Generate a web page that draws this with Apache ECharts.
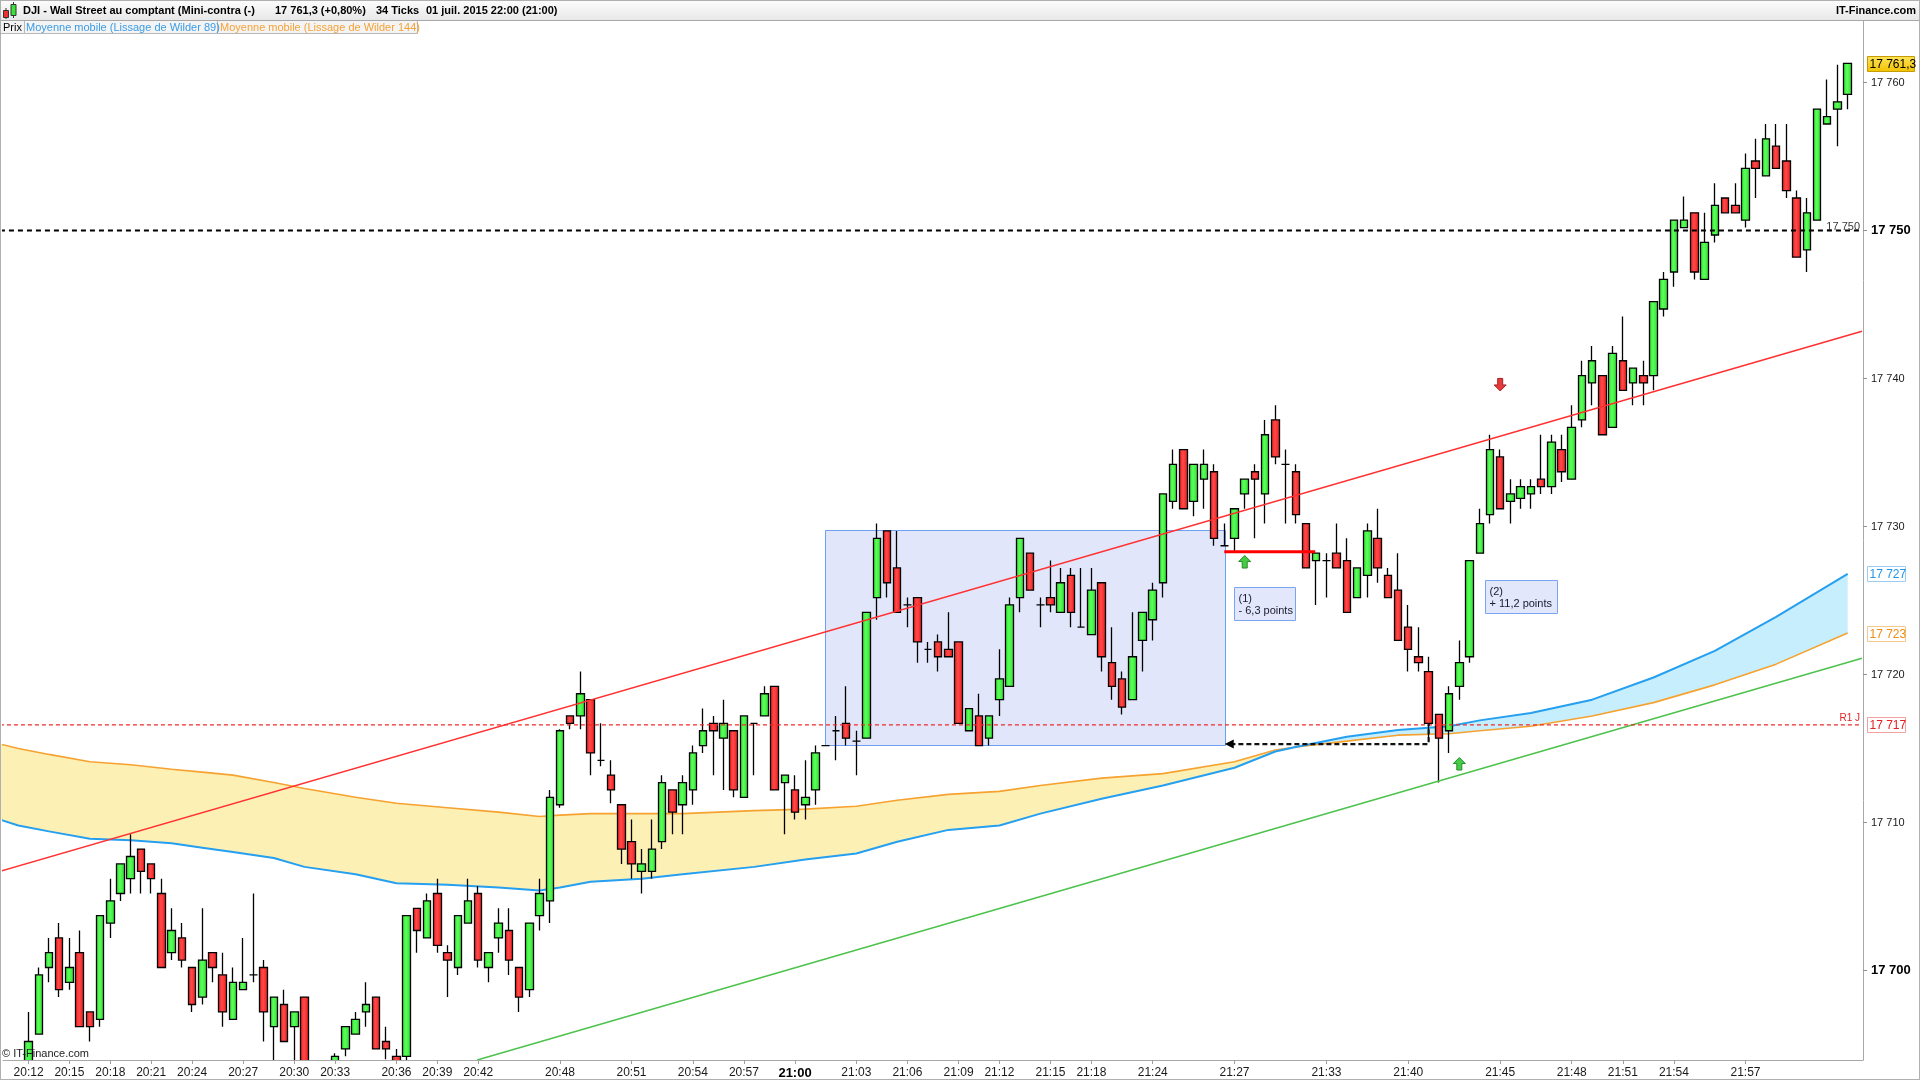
<!DOCTYPE html>
<html><head><meta charset="utf-8">
<script src="https://cdn.jsdelivr.net/npm/echarts@6/dist/echarts.min.js"></script>
<style>html,body{margin:0;padding:0;background:#fff;overflow:hidden}#c{width:1920px;height:1080px}</style>
</head><body><div id="c"></div>
<script>
// ---- candle data (34-tick candles) ----
const candleOpen = [17692.5,17695.7,17700.2,17702.2,17699.2,17701.2,17697.2,17696.7,17703.2,17705.2,
17706.2,17708.2,17707.2,17705.2,17701.2,17702.2,17700.2,17698.2,17701.2,17699.7,
17696.7,17698.7,17699.7,17700.2,17696.2,17697.7,17696.2,17698.2,17692.5,17691.5,
17692.8,17694.7,17695.7,17697.2,17698.2,17695.2,17694.2,17694.2,17704.2,17702.2,
17705.2,17701.2,17700.2,17703.2,17705.2,17700.2,17702.2,17702.7,17700.2,17698.7,
17703.7,17704.7,17711.2,17717.2,17717.2,17718.3,17714.2,17713.2,17711.2,17708.7,
17706.7,17706.7,17708.7,17712.2,17711.2,17712.2,17715.2,17716.7,17715.7,17716.2,
17711.7,17716.7,17717.2,17719.2,17712.7,17712.2,17711.2,17712.2,17715.2,17716.2,
17716.7,17715.5,17715.7,17725.2,17729.7,17727.2,17724.7,17725.2,17721.7,17722.2,
17721.7,17722.2,17716.2,17717.2,17715.7,17718.3,17719.2,17725.2,17728.2,17724.7,
17725.2,17724.2,17726.7,17723.2,17722.7,17726.2,17720.8,17719.7,17718.3,17722.3,
17723.7,17726.2,17731.7,17735.2,17731.7,17733.2,17733.7,17728.7,17729.2,17732.2,
17733.7,17732.2,17737.2,17734.2,17733.7,17730.2,17727.7,17727.7,17728.2,17727.7,
17725.2,17726.7,17729.2,17726.7,17725.7,17723.2,17721.2,17720.2,17717.3,17716.2,
17719.2,17721.2,17728.2,17730.8,17734.7,17731.7,17731.9,17732.2,17733.2,17732.7,
17735.2,17733.2,17737.2,17739.7,17740.2,17736.7,17741.2,17739.7,17740.2,17740.2,
17744.7,17747.2,17750.2,17751.2,17746.7,17749.7,17752.2,17751.7,17750.7,17754.7,
17753.7,17755.7,17754.7,17752.2,17748.7,17750.7,17757.2,17758.2,17759.2];
const candleHigh = [17697.2,17700.2,17702.2,17703.2,17702.2,17702.7,17697.2,17703.7,17706.2,17707.2,
17709.2,17708.2,17707.2,17706.2,17704.2,17703.2,17700.2,17704.2,17701.2,17701.2,
17700.2,17702.2,17705.2,17700.7,17698.2,17698.7,17697.2,17698.2,17693.5,17693.6,
17694.4,17696.2,17697.2,17699.2,17698.2,17696.2,17694.7,17703.7,17704.2,17705.2,
17706.2,17701.7,17703.7,17706.2,17705.7,17701.2,17704.2,17704.2,17700.2,17703.2,
17706.2,17712.2,17716.3,17717.2,17720.2,17718.3,17716.7,17714.2,17711.2,17710.2,
17708.2,17710.2,17713.2,17712.2,17713.2,17715.2,17717.7,17717.2,17718.3,17716.2,
17717.2,17716.7,17719.2,17719.2,17713.2,17713.2,17714.2,17715.2,17715.2,17717.2,
17719.2,17716.2,17724.2,17730.2,17729.7,17729.7,17725.2,17725.2,17722.2,17722.7,
17724.2,17722.2,17717.7,17718.7,17717.2,17721.7,17725.2,17729.2,17728.2,17725.2,
17727.7,17727.2,17727.2,17727.2,17727.2,17726.2,17723.2,17720.2,17724.2,17724.2,
17726.2,17732.2,17735.2,17735.2,17734.2,17735.2,17734.2,17730.2,17731.2,17733.2,
17734.2,17737.2,17738.2,17735.2,17734.2,17730.2,17728.2,17728.2,17730.2,17729.2,
17727.2,17730.2,17731.2,17727.2,17728.2,17724.7,17723.2,17721.2,17717.3,17719.2,
17722.3,17727.7,17731.2,17736.2,17735.2,17733.2,17733.2,17733.2,17736.2,17736.2,
17736.2,17738.2,17741.2,17742.2,17740.2,17742.2,17744.2,17740.7,17741.2,17745.2,
17747.2,17750.7,17752.3,17751.2,17751.2,17753.2,17752.2,17753.2,17755.2,17756.2,
17757.2,17757.2,17757.2,17752.7,17752.2,17758.2,17760.2,17761.2,17761.3];
const candleLow = [17692.0,17695.7,17699.2,17698.2,17698.7,17696.2,17695.2,17696.2,17702.2,17704.7,
17705.2,17705.2,17705.2,17700.2,17700.7,17700.2,17697.2,17697.7,17699.2,17696.2,
17696.7,17698.7,17699.2,17695.2,17693.5,17695.2,17693.5,17691.5,17690.5,17691.0,
17692.5,17694.2,17695.7,17696.2,17694.7,17694.0,17693.0,17693.8,17701.2,17702.2,
17701.2,17698.2,17699.7,17703.2,17700.2,17699.2,17701.2,17699.7,17697.2,17698.2,
17702.7,17703.2,17711.0,17716.3,17716.3,17713.2,17713.8,17711.3,17707.2,17706.2,
17705.2,17706.2,17708.2,17709.2,17709.2,17711.2,17714.7,17713.2,17712.2,17711.7,
17711.7,17713.2,17717.2,17712.2,17709.2,17710.2,17710.2,17711.2,17715.2,17714.2,
17715.2,17713.2,17715.7,17723.7,17725.2,17724.2,17723.2,17720.8,17720.8,17720.2,
17721.2,17716.7,17716.2,17715.2,17715.2,17717.2,17719.2,17724.2,17725.7,17723.2,
17724.2,17724.2,17723.2,17723.2,17722.7,17720.2,17718.3,17717.3,17718.3,17720.2,
17722.3,17725.2,17731.2,17731.2,17730.7,17731.2,17728.7,17728.7,17728.3,17731.2,
17729.2,17730.2,17734.2,17730.2,17730.2,17727.2,17724.7,17725.2,17727.2,17724.2,
17725.2,17725.2,17726.2,17725.2,17722.3,17720.2,17720.2,17715.7,17712.7,17714.7,
17718.3,17720.8,17728.2,17730.2,17731.2,17730.2,17731.2,17731.2,17732.2,17732.2,
17733.0,17733.2,17736.7,17738.2,17736.2,17736.7,17739.2,17738.2,17738.2,17739.2,
17744.2,17746.2,17750.2,17746.7,17746.7,17749.2,17751.2,17751.2,17750.2,17752.2,
17753.7,17754.2,17752.2,17748.2,17747.2,17750.7,17757.2,17755.7,17758.2];
const candleClose = [17695.2,17699.7,17701.2,17698.7,17700.2,17696.2,17696.2,17703.7,17704.7,17707.2,
17707.7,17706.7,17706.2,17700.2,17702.7,17700.7,17697.7,17700.7,17700.2,17697.2,
17699.2,17699.2,17699.7,17697.2,17698.2,17695.2,17697.2,17692.5,17691.5,17692.8,
17694.2,17696.2,17696.7,17697.7,17694.7,17694.7,17693.5,17703.7,17702.7,17704.7,
17701.7,17700.7,17703.7,17704.7,17700.7,17701.2,17703.2,17700.7,17698.2,17703.2,
17705.2,17711.7,17716.2,17716.7,17718.7,17714.7,17714.2,17712.2,17708.2,17707.2,
17707.2,17708.2,17712.7,17710.7,17712.7,17714.7,17716.2,17716.2,17716.7,17712.2,
17717.2,17716.7,17718.7,17712.2,17713.2,17710.7,17711.7,17714.7,17715.2,17716.2,
17715.7,17715.5,17724.2,17729.2,17726.2,17724.2,17724.7,17722.2,17721.7,17721.2,
17721.2,17716.7,17717.7,17715.2,17717.2,17719.7,17724.7,17729.2,17725.7,17724.7,
17724.7,17726.2,17724.2,17723.2,17725.7,17721.2,17719.2,17717.8,17721.2,17724.2,
17725.7,17732.2,17734.2,17731.2,17734.2,17734.2,17729.2,17728.7,17731.2,17733.2,
17733.2,17736.2,17734.7,17734.2,17730.8,17727.2,17728.2,17727.7,17727.2,17724.2,
17727.2,17729.7,17727.2,17725.2,17722.3,17721.7,17720.8,17716.7,17715.7,17718.7,
17720.8,17727.7,17730.2,17735.2,17731.2,17732.2,17732.7,17732.7,17732.7,17735.7,
17733.7,17736.7,17740.2,17741.2,17736.2,17741.7,17739.2,17740.7,17739.7,17745.2,
17746.7,17750.7,17750.7,17747.2,17749.2,17751.7,17751.2,17751.2,17754.2,17754.2,
17756.2,17754.2,17752.7,17748.2,17751.2,17758.2,17757.7,17758.7,17761.3];

// ---- time axis ticks (candle index -> label) ----
const tickIndex = [0,4,8,12,16,21,26,30,36,40,44,52,59,65,70,75,81,86,91,95,100,104,110,118,127,135,144,151,156,161,168];
const tickLabel = ['20:12','20:15','20:18','20:21','20:24','20:27','20:30','20:33','20:36','20:39','20:42','20:48','20:51','20:54','20:57','21:00','21:03','21:06','21:09','21:12','21:15','21:18','21:24','21:27','21:33','21:40','21:45','21:48','21:51','21:54','21:57'];
const priceTicks = [17700,17710,17720,17730,17740,17750,17760];

// ---- moving averages (Wilder 89 / 144), read at sample candle positions ----
const maIndex = [-2.8,-1,2,6,10,14,17,20,24,27,32,36,41,46,50,52,55,60,64,71,76,81,85,90,95,99,105,111,118,122,124,129,134,139,142,147,153,159,165,171,178];
const ma89 = [17710.2,17709.8,17709.4,17708.9,17708.8,17708.6,17708.3,17708.0,17707.6,17707.0,17706.5,17705.9,17705.8,17705.6,17705.4,17705.6,17706.0,17706.2,17706.5,17707.0,17707.5,17707.9,17708.7,17709.5,17709.8,17710.6,17711.6,17712.5,17713.7,17714.8,17715.1,17715.8,17716.25,17716.5,17716.9,17717.4,17718.3,17719.8,17721.6,17723.9,17726.8];
const ma144 = [17715.3,17715.0,17714.6,17714.1,17713.9,17713.6,17713.4,17713.2,17712.7,17712.3,17711.7,17711.3,17711.0,17710.7,17710.4,17710.5,17710.6,17710.6,17710.6,17710.8,17710.9,17711.1,17711.5,17711.9,17712.1,17712.5,17713.0,17713.3,17714.1,17714.9,17715.1,17715.5,17715.9,17716.0,17716.2,17716.5,17717.2,17718.1,17719.3,17720.7,17722.8];

// ---- drawn objects ----
const resistX = [-2.8, 179.4], resistY = [17706.7, 17743.2];
const supportX = [43.9, 179.4], supportY = [17693.95, 17721.1];
const pivotX = [-2.8, 179.4], pivotY = [17716.6, 17716.6];
const levelX = [-2.8, 179.4], levelY = [17750, 17750];
const stopX = [117.0, 125.9], stopY = [17728.3, 17728.3];
const exitX = [117.6, 137.0, 137.0], exitY = [17715.3, 17715.3, 17716.7];
const exitHeadX = [117.05], exitHeadY = [17715.3];
const zoneX = [77.9, 117.0], zoneY = [17715.2, 17729.75];
const noteX0 = [118.0, 142.5], noteX1 = [124.0, 149.5];
const noteTop = [17725.9, 17726.4], noteBottom = [17723.7, 17724.2];
const noteLine1 = ['(1)', '(2)'], noteLine2 = ['- 6,3 points', '+ 11,2 points'];
const signalX = [119, 140, 144], signalY = [17727.6, 17713.95, 17739.6], signalDir = ['up', 'up', 'down'];
const tagValue = [17761.3, 17726.8, 17722.8, 17716.6];
const tagText = ['17 761,3', '17 727', '17 723', '17 717'];
const lineTagText = ['R1 J', '17 750'], lineTagY = [17716.6, 17750];

// ---- build ----
const FONT = '"Liberation Sans", Arial, sans-serif';
const padLeft = 2, padRight = 1;
const nCat = padLeft + candleOpen.length + padRight;
const catLabels = Array.from({length: nCat}, () => '');
tickIndex.forEach((c, i) => { catLabels[c + padLeft] = tickLabel[i]; });
const candleData = candleOpen.map((o, i) => [i + padLeft, o, candleClose[i], candleLow[i], candleHigh[i]]);
const xMin = -padLeft - 0.5, xMax = candleOpen.length + padRight - 0.5;
const yMin = 17693.95, yMax = 17764.16;
const fmtPrice = v => String(v).replace(/^(\d{2})(\d{3})/, '$1 $2');
const pairs = (xs, ys) => xs.map((x, i) => [x, ys[i]]);

const G = echarts.graphic;
const upFill = new G.LinearGradient(0, 0, 1, 0, [{offset: 0, color: '#27e027'}, {offset: 0.45, color: '#5cff5c'}, {offset: 1, color: '#2bd82b'}]);
const downFill = new G.LinearGradient(0, 0, 1, 0, [{offset: 0, color: '#f01616'}, {offset: 0.45, color: '#ff4a4a'}, {offset: 1, color: '#e81818'}]);

function lineSeries(name, data, color, width, type, z, clip) {
  return {name, type: 'line', xAxisIndex: 1, yAxisIndex: 0, data, symbol: 'none', silent: true,
    lineStyle: {color, width, type: type || 'solid'}, z, clip: !!clip, animation: false};
}

const chart = echarts.init(document.getElementById('c'), null, {renderer: 'canvas'});
const option = {
  animation: false,
  backgroundColor: '#ffffff',
  grid: {left: 3, right: 57, top: 21, bottom: 20, containLabel: false},
  xAxis: [{
    type: 'category', data: catLabels, boundaryGap: true, gridIndex: 0, z: 60,
    axisLine: {show: true, onZero: false, lineStyle: {color: '#a8a8a8', width: 1}},
    axisTick: {show: true, length: 4, alignWithLabel: true, interval: (i, v) => v !== '', lineStyle: {color: '#a0a0a0'}},
    axisLabel: {interval: (i, v) => v !== '', margin: 7, color: '#1a1a1a', fontSize: 12, fontFamily: FONT,
      formatter: v => v === '21:00' ? '{b|21:00}' : v,
      rich: {b: {fontWeight: 'bold', fontSize: 13, color: '#000', fontFamily: FONT}}},
    splitLine: {show: false}
  }, {
    type: 'value', min: xMin, max: xMax, show: false, gridIndex: 0, splitLine: {show: false},
    axisLine: {onZero: false}
  }],
  yAxis: [{
    type: 'value', position: 'right', min: yMin, max: yMax, z: 60,
    axisLine: {show: true, onZero: false, lineStyle: {color: '#a8a8a8', width: 1}},
    axisTick: {show: true, length: 4, customValues: priceTicks, lineStyle: {color: '#909090'}},
    axisLabel: {customValues: priceTicks, margin: 8, color: '#1a1a1a', fontSize: 11, fontFamily: FONT,
      formatter: v => v % 50 === 0 ? '{b|' + fmtPrice(v) + '}' : fmtPrice(v),
      rich: {b: {fontWeight: 'bold', fontSize: 13, color: '#000', fontFamily: FONT}}},
    splitLine: {show: false}
  }],
  series: [
    // consolidation zone
    {type: 'custom', xAxisIndex: 1, yAxisIndex: 0, z: 1, silent: true, clip: false,
      data: [[zoneX[0], zoneY[0], zoneX[1], zoneY[1]]],
      renderItem: (p, api) => {
        const a = api.coord([api.value(0), api.value(3)]), b = api.coord([api.value(2), api.value(1)]);
        return {type: 'rect', shape: {x: Math.round(a[0]) + 0.5, y: Math.round(a[1]) + 0.5, width: Math.round(b[0] - a[0]), height: Math.round(b[1] - a[1])},
          style: {fill: '#e1e6fa', stroke: '#6e9ff0', lineWidth: 1}};
      }},
    // MA band
    {type: 'custom', xAxisIndex: 1, yAxisIndex: 0, z: 2, silent: true, clip: false,
      data: [[maIndex[0], ma89[0]]],
      renderItem: (p, api) => {
        const n = maIndex.length;
        let k = ma89.findIndex((v, i) => v >= ma144[i]);
        if (k < 0) k = n - 1;
        const poly = (a, b) => {
          const pts = [];
          for (let i = a; i <= b; i++) pts.push(api.coord([maIndex[i], ma144[i]]));
          for (let i = b; i >= a; i--) pts.push(api.coord([maIndex[i], ma89[i]]));
          return pts;
        };
        return {type: 'group', children: [
          {type: 'polygon', shape: {points: poly(0, k)}, style: {fill: '#fdf0b4'}},
          {type: 'polygon', shape: {points: poly(k, n - 1)}, style: {fill: '#c6eefc'}}
        ]};
      }},
    lineSeries('Wilder 144', pairs(maIndex, ma144), '#f6a230', 1.6, null, 3, false),
    lineSeries('Wilder 89', pairs(maIndex, ma89), '#259ff0', 2, null, 3, false),
    // candles
    {type: 'candlestick', xAxisIndex: 0, yAxisIndex: 0, data: candleData, clip: true,
      encode: {x: 0, y: [1, 2, 3, 4]}, barWidth: 8, z: 5, silent: true,
      itemStyle: {color: upFill, color0: downFill, borderColor: '#000', borderColor0: '#000', borderColorDoji: '#000', borderWidth: 1.3}},
    // trend lines and levels
    lineSeries('resistance', pairs(resistX, resistY), '#ff3030', 1.5, null, 6, false),
    lineSeries('support', pairs(supportX, supportY), '#4cc24c', 1.5, null, 6, true),
    lineSeries('R1', pairs(pivotX, pivotY), '#ee2a2a', 1.2, [4, 3], 6, false),
    lineSeries('17750', pairs(levelX, levelY), '#000000', 2, [5, 4], 6, false),
    lineSeries('stop', pairs(stopX, stopY), '#ff0000', 3, null, 6, false),
    lineSeries('exit', pairs(exitX, exitY), '#111111', 2.2, [5, 3], 6, false),
    // arrow head of exit line
    {type: 'custom', xAxisIndex: 1, yAxisIndex: 0, z: 7, silent: true, clip: false,
      data: pairs(exitHeadX, exitHeadY),
      renderItem: (p, api) => {
        const c = api.coord([api.value(0), api.value(1)]);
        return {type: 'polygon', shape: {points: [[c[0], c[1]], [c[0] + 9, c[1] - 4.5], [c[0] + 9, c[1] + 4.5]]}, style: {fill: '#000'}};
      }},
    // signal arrows
    {type: 'custom', xAxisIndex: 1, yAxisIndex: 0, z: 7, silent: true, clip: false,
      data: pairs(signalX, signalY),
      renderItem: (p, api) => {
        const c = api.coord([api.value(0), api.value(1)]);
        const s = signalDir[p.dataIndex] === 'up' ? 1 : -1;
        const x = c[0], y = c[1];
        const pts = [[x, y - 6.5 * s], [x + 6, y - 0.5 * s], [x + 2.5, y - 0.5 * s], [x + 2.5, y + 6 * s], [x - 2.5, y + 6 * s], [x - 2.5, y - 0.5 * s], [x - 6, y - 0.5 * s]];
        const up = s === 1;
        return {type: 'polygon', shape: {points: pts},
          style: {fill: up ? '#45cc45' : '#e83a3a', stroke: up ? '#2a8a2a' : '#a52020', lineWidth: 1}};
      }},
    // annotation boxes
    {type: 'custom', xAxisIndex: 1, yAxisIndex: 0, z: 8, silent: true, clip: false,
      data: noteX0.map((x, i) => [x, noteTop[i], noteX1[i], noteBottom[i]]),
      renderItem: (p, api) => {
        const a = api.coord([api.value(0), api.value(1)]), b = api.coord([api.value(2), api.value(3)]);
        const x = Math.round(a[0]) + 0.5, y = Math.round(a[1]) + 0.5;
        const w = Math.round(b[0] - a[0]), h = Math.round(b[1] - a[1]);
        return {type: 'group', children: [
          {type: 'rect', shape: {x, y, width: w, height: h}, style: {fill: '#e2e7fb', stroke: '#78a4f2', lineWidth: 1}},
          {type: 'text', style: {text: noteLine1[p.dataIndex], x: x + 4, y: y + h * 0.36, fill: '#1a1a2e', fontSize: 11, fontFamily: FONT, align: 'left', verticalAlign: 'middle'}},
          {type: 'text', style: {text: noteLine2[p.dataIndex], x: x + 4, y: y + h * 0.7, fill: '#1a1a2e', fontSize: 11, fontFamily: FONT, align: 'left', verticalAlign: 'middle'}}
        ]};
      }},
    // small labels on horizontal lines
    {type: 'custom', xAxisIndex: 1, yAxisIndex: 0, z: 8, silent: true, clip: false,
      data: lineTagY.map(v => [xMax, v]),
      renderItem: (p, api) => {
        const c = api.coord([api.value(0), api.value(1)]);
        const red = lineTagText[p.dataIndex] === 'R1 J';
        return {type: 'text', style: {text: lineTagText[p.dataIndex], x: c[0] - 3, y: c[1] + (red ? -2 : 2),
          fill: red ? '#e52222' : '#3a3a3a', fontSize: red ? 10 : 11, fontFamily: FONT, align: 'right', verticalAlign: 'bottom'}};
      }},
    // last-value tags on the price axis
    {type: 'custom', xAxisIndex: 1, yAxisIndex: 0, z: 9, silent: true, clip: false,
      data: tagValue.map(v => [xMax, v]),
      renderItem: (p, api) => {
        const c = api.coord([api.value(0), api.value(1)]);
        const i = p.dataIndex;
        const colors = ['#000000', '#1e95ea', '#f08c10', '#e52020'];
        const borders = ['#c49c00', '#9ccdf2', '#f5c98a', '#f0a0a0'];
        const fill = i === 0 ? new G.LinearGradient(0, 0, 0, 1, [{offset: 0, color: '#ffe45c'}, {offset: 1, color: '#f2c200'}]) : '#ffffff';
        const w = tagText[i].length > 6 ? 47 : 38;
        const x = Math.round(c[0]) + 4.5, y = Math.round(c[1] - 7.5) + 0.5;
        return {type: 'group', children: [
          {type: 'rect', shape: {x, y, width: w, height: 15}, style: {fill, stroke: borders[i], lineWidth: 1}},
          {type: 'text', style: {text: tagText[i], x: x + 2, y: y + 8, fill: colors[i], fontSize: 12, fontFamily: FONT, align: 'left', verticalAlign: 'middle'}}
        ]};
      }}
  ],
  graphic: [
    // mask below the plot area (hides candle parts under the time axis)
    {type: 'rect', z: 50, shape: {x: 1, y: 1060.5, width: 1918, height: 18.5}, style: {fill: '#ffffff'}},
    // header bar
    {type: 'rect', z: 100, shape: {x: 0, y: 0, width: 1920, height: 20},
      style: {fill: new G.LinearGradient(0, 0, 0, 1, [{offset: 0, color: '#fdfdfd'}, {offset: 1, color: '#e8e8e8'}])}},
    {type: 'line', z: 101, shape: {x1: 0, y1: 0.5, x2: 1920, y2: 0.5}, style: {stroke: '#b0b0b0', lineWidth: 1}},
    {type: 'line', z: 101, shape: {x1: 0, y1: 20.5, x2: 1920, y2: 20.5}, style: {stroke: '#a8a8a8', lineWidth: 1}},
    {type: 'line', z: 101, shape: {x1: 0.5, y1: 0, x2: 0.5, y2: 1080}, style: {stroke: '#b0b0b0', lineWidth: 1}},
    {type: 'line', z: 101, shape: {x1: 1919.5, y1: 0, x2: 1919.5, y2: 1080}, style: {stroke: '#b0b0b0', lineWidth: 1}},
    {type: 'line', z: 101, shape: {x1: 0, y1: 1079.5, x2: 1920, y2: 1079.5}, style: {stroke: '#b0b0b0', lineWidth: 1}},
    // header icon
    {type: 'line', z: 102, shape: {x1: 6, y1: 8, x2: 6, y2: 19}, style: {stroke: '#333', lineWidth: 1}},
    {type: 'rect', z: 103, shape: {x: 3.5, y: 10.5, width: 5, height: 7}, style: {fill: '#f03030', stroke: '#333', lineWidth: 1}},
    {type: 'line', z: 102, shape: {x1: 13.5, y1: 2, x2: 13.5, y2: 18}, style: {stroke: '#333', lineWidth: 1}},
    {type: 'rect', z: 103, shape: {x: 11, y: 4.5, width: 5, height: 11}, style: {fill: '#3ae23a', stroke: '#333', lineWidth: 1}},
    // header texts
    {type: 'text', z: 102, style: {text: 'DJI - Wall Street au comptant (Mini-contra (-)', x: 23, y: 10.5, fill: '#000', font: 'bold 11px ' + FONT, verticalAlign: 'middle'}},
    {type: 'text', z: 102, style: {text: '17 761,3 (+0,80%)', x: 275, y: 10.5, fill: '#000', font: 'bold 11px ' + FONT, verticalAlign: 'middle'}},
    {type: 'text', z: 102, style: {text: '34 Ticks', x: 376, y: 10.5, fill: '#000', font: 'bold 11px ' + FONT, verticalAlign: 'middle'}},
    {type: 'text', z: 102, style: {text: '01 juil. 2015 22:00 (21:00)', x: 426, y: 10.5, fill: '#000', font: 'bold 11px ' + FONT, verticalAlign: 'middle'}},
    {type: 'text', z: 102, style: {text: 'IT-Finance.com', x: 1916, y: 10.5, fill: '#000', font: 'bold 11px ' + FONT, align: 'right', verticalAlign: 'middle'}},
    // legend row
    {type: 'rect', z: 100, shape: {x: 0.5, y: 20.5, width: 24, height: 13}, style: {fill: '#f4f4f4', stroke: '#b8b8b8', lineWidth: 1}},
    {type: 'text', z: 101, style: {text: 'Prix', x: 3, y: 27.5, fill: '#000', font: '11px ' + FONT, verticalAlign: 'middle'}},
    {type: 'rect', z: 100, shape: {x: 24.5, y: 20.5, width: 193, height: 13}, style: {fill: '#f4f4f4', stroke: '#b8b8b8', lineWidth: 1}},
    {type: 'text', z: 101, style: {text: 'Moyenne mobile (Lissage de Wilder 89)', x: 26, y: 27.5, fill: '#3a9ce6', font: '11px ' + FONT, verticalAlign: 'middle'}},
    {type: 'rect', z: 100, shape: {x: 217.5, y: 20.5, width: 200, height: 13}, style: {fill: '#f4f4f4', stroke: '#b8b8b8', lineWidth: 1}},
    {type: 'text', z: 101, style: {text: 'Moyenne mobile (Lissage de Wilder 144)', x: 220, y: 27.5, fill: '#f5a236', font: '11px ' + FONT, verticalAlign: 'middle'}},
    // copyright
    {type: 'text', z: 100, style: {text: '© IT-Finance.com', x: 2, y: 1054, fill: '#222', font: '11px ' + FONT, verticalAlign: 'middle'}}
  ]
};
chart.setOption(option);
</script>
</body></html>
